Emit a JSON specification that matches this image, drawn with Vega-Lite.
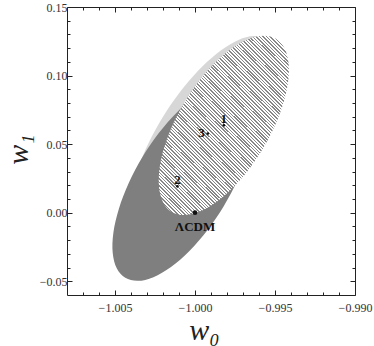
{
"$schema":"https://vega.github.io/schema/vega-lite/v6.json",
"width":288,"height":288,"autosize":"none",
"padding":{"left":67,"top":7,"right":19,"bottom":51},
"config":{"view":{"stroke":"#222","strokeWidth":1},
"axis":{"grid":false,"domain":false,"labelFont":"Liberation Serif","labelFontSize":12,"labelColor":"#333","tickColor":"#222","titleFont":"Liberation Serif","titleFontStyle":"italic","titleFontWeight":"normal","titleFontSize":30,"titleColor":"#222","labelFlush":false,"labelOverlap":false}},
"datasets":{
"ell":[
{"e":"L","i":0,"x":-0.995639,"y":0.12682},{"e":"L","i":1,"x":-0.996355,"y":0.12886},{"e":"L","i":2,"x":-0.997286,"y":0.12601},{"e":"L","i":3,"x":-0.998369,"y":0.11847},{"e":"L","i":4,"x":-0.999531,"y":0.10675},{"e":"L","i":5,"x":-1.000692,"y":0.09163},{"e":"L","i":6,"x":-1.001773,"y":0.07418},{"e":"L","i":7,"x":-1.0027,"y":0.05555},{"e":"L","i":8,"x":-1.003411,"y":0.03703},{"e":"L","i":9,"x":-1.003857,"y":0.01988},{"e":"L","i":10,"x":-1.004006,"y":0.00526},{"e":"L","i":11,"x":-1.00385,"y":-0.00582},{"e":"L","i":12,"x":-1.003399,"y":-0.01262},{"e":"L","i":13,"x":-1.002683,"y":-0.01466},{"e":"L","i":14,"x":-1.001752,"y":-0.01181},{"e":"L","i":15,"x":-1.000669,"y":-0.00427},{"e":"L","i":16,"x":-0.999507,"y":0.00745},{"e":"L","i":17,"x":-0.998346,"y":0.02257},{"e":"L","i":18,"x":-0.997265,"y":0.04002},{"e":"L","i":19,"x":-0.996338,"y":0.05865},{"e":"L","i":20,"x":-0.995627,"y":0.07717},{"e":"L","i":21,"x":-0.995181,"y":0.09432},{"e":"L","i":22,"x":-0.995032,"y":0.10894},{"e":"L","i":23,"x":-0.995188,"y":0.12002},
{"e":"D","i":0,"x":-0.997145,"y":0.09254},{"e":"D","i":1,"x":-0.997927,"y":0.09477},{"e":"D","i":2,"x":-0.998901,"y":0.09208},{"e":"D","i":3,"x":-1.0,"y":0.08465},{"e":"D","i":4,"x":-1.001151,"y":0.07298},{"e":"D","i":5,"x":-1.002275,"y":0.05788},{"e":"D","i":6,"x":-1.003295,"y":0.04038},{"e":"D","i":7,"x":-1.004141,"y":0.02166},{"e":"D","i":8,"x":-1.004756,"y":0.00298},{"e":"D","i":9,"x":-1.005099,"y":-0.01434},{"e":"D","i":10,"x":-1.005144,"y":-0.02917},{"e":"D","i":11,"x":-1.004891,"y":-0.04046},{"e":"D","i":12,"x":-1.004355,"y":-0.04746},{"e":"D","i":13,"x":-1.003573,"y":-0.04969},{"e":"D","i":14,"x":-1.002599,"y":-0.047},{"e":"D","i":15,"x":-1.0015,"y":-0.03957},{"e":"D","i":16,"x":-1.000349,"y":-0.0279},{"e":"D","i":17,"x":-0.999225,"y":-0.0128},{"e":"D","i":18,"x":-0.998205,"y":0.0047},{"e":"D","i":19,"x":-0.997359,"y":0.02342},{"e":"D","i":20,"x":-0.996744,"y":0.0421},{"e":"D","i":21,"x":-0.996401,"y":0.05942},{"e":"D","i":22,"x":-0.996356,"y":0.07425},{"e":"D","i":23,"x":-0.996609,"y":0.08554},
{"e":"H","i":0,"x":-0.994945,"y":0.12683},{"e":"H","i":1,"x":-0.995687,"y":0.1291},{"e":"H","i":2,"x":-0.996601,"y":0.12692},{"e":"H","i":3,"x":-0.997624,"y":0.12042},{"e":"H","i":4,"x":-0.998686,"y":0.11006},{"e":"H","i":5,"x":-0.999715,"y":0.09654},{"e":"H","i":6,"x":-1.00064,"y":0.08078},{"e":"H","i":7,"x":-1.001399,"y":0.06386},{"e":"H","i":8,"x":-1.00194,"y":0.04693},{"e":"H","i":9,"x":-1.002227,"y":0.03114},{"e":"H","i":10,"x":-1.002239,"y":0.01757},{"e":"H","i":11,"x":-1.001975,"y":0.00714},{"e":"H","i":12,"x":-1.001455,"y":0.00057},{"e":"H","i":13,"x":-1.000713,"y":-0.0017},{"e":"H","i":14,"x":-0.999799,"y":0.00048},{"e":"H","i":15,"x":-0.998776,"y":0.00698},{"e":"H","i":16,"x":-0.997714,"y":0.01734},{"e":"H","i":17,"x":-0.996685,"y":0.03086},{"e":"H","i":18,"x":-0.99576,"y":0.04662},{"e":"H","i":19,"x":-0.995001,"y":0.06354},{"e":"H","i":20,"x":-0.99446,"y":0.08047},{"e":"H","i":21,"x":-0.994173,"y":0.09626},{"e":"H","i":22,"x":-0.994161,"y":0.10983},{"e":"H","i":23,"x":-0.994425,"y":0.12026}
],
"pts":[{"label":"1","x":-0.9982,"y":0.0637},{"label":"2","x":-1.0011,"y":0.0193},{"label":"3","x":-0.9992,"y":0.0577},{"label":"ΛCDM","x":-1.0,"y":0.0}]
},
"layer":[
{"data":{"name":"ell"},"transform":[{"filter":"datum.e === 'L'"}],
"mark":{"type":"line","interpolate":"cardinal-closed","fill":"#d7d7d7","strokeOpacity":0},
"encoding":{
"x":{"field":"x","type":"quantitative","scale":{"domain":[-1.008,-0.99],"nice":false,"zero":false},"axis":{"orient":"bottom","values":[-1.005,-1,-0.995,-0.99],"format":".3f","tickSize":-5,"labelPadding":12,"title":"w₀","titleBaseline":"alphabetic","titleY":44,"titleX":137,"titleAlign":"center"}},
"y":{"field":"y","type":"quantitative","scale":{"domain":[-0.06,0.15],"nice":false,"zero":false},"axis":{"orient":"left","values":[-0.05,0,0.05,0.1,0.15],"format":".2f","tickSize":-5,"labelPadding":5,"title":"w₁","titleBaseline":"alphabetic","titleX":-40,"titleY":142,"titleAlign":"center","titleAngle":-90}},
"order":{"field":"i","type":"quantitative"}}},
{"data":{"name":"ell"},"transform":[{"filter":"datum.e === 'D'"}],
"mark":{"type":"line","interpolate":"cardinal-closed","fill":"#7f7f7f","strokeOpacity":0},
"encoding":{
"x":{"field":"x","type":"quantitative","scale":{"domain":[-1.008,-0.99],"nice":false,"zero":false},"axis":{"orient":"bottom","values":[-1.007,-1.006,-1.004,-1.003,-1.002,-1.001,-0.999,-0.998,-0.997,-0.996,-0.994,-0.993,-0.992,-0.991],"tickSize":-3,"labels":false,"title":null}},
"y":{"field":"y","type":"quantitative","scale":{"domain":[-0.06,0.15],"nice":false,"zero":false},"axis":{"orient":"left","values":[-0.04,-0.03,-0.02,-0.01,0.01,0.02,0.03,0.04,0.06,0.07,0.08,0.09,0.11,0.12,0.13,0.14],"tickSize":-3,"labels":false,"title":null}},
"order":{"field":"i","type":"quantitative"}}},
{"data":{"name":"ell"},"transform":[{"filter":"datum.e === 'H'"}],
"mark":{"type":"line","interpolate":"cardinal-closed","strokeOpacity":0,
"fill":{"gradient":"linear","x1":0,"y1":1,"x2":1,"y2":-0.39,"stops":[
{"offset":0,"color":"#fff"},{"offset":0.005,"color":"#fff"},{"offset":0.005,"color":"#888"},{"offset":0.009,"color":"#888"},
{"offset":0.009,"color":"#fff"},{"offset":0.014,"color":"#fff"},{"offset":0.014,"color":"#888"},{"offset":0.018,"color":"#888"},
{"offset":0.018,"color":"#fff"},{"offset":0.023,"color":"#fff"},{"offset":0.023,"color":"#888"},{"offset":0.027,"color":"#888"},
{"offset":0.027,"color":"#fff"},{"offset":0.032,"color":"#fff"},{"offset":0.032,"color":"#888"},{"offset":0.036,"color":"#888"},
{"offset":0.036,"color":"#fff"},{"offset":0.041,"color":"#fff"},{"offset":0.041,"color":"#888"},{"offset":0.045,"color":"#888"},
{"offset":0.045,"color":"#fff"},{"offset":0.05,"color":"#fff"},{"offset":0.05,"color":"#888"},{"offset":0.054,"color":"#888"},
{"offset":0.054,"color":"#fff"},{"offset":0.059,"color":"#fff"},{"offset":0.059,"color":"#888"},{"offset":0.063,"color":"#888"},
{"offset":0.063,"color":"#fff"},{"offset":0.068,"color":"#fff"},{"offset":0.068,"color":"#888"},{"offset":0.072,"color":"#888"},
{"offset":0.072,"color":"#fff"},{"offset":0.077,"color":"#fff"},{"offset":0.077,"color":"#888"},{"offset":0.081,"color":"#888"},
{"offset":0.081,"color":"#fff"},{"offset":0.086,"color":"#fff"},{"offset":0.086,"color":"#888"},{"offset":0.09,"color":"#888"},
{"offset":0.09,"color":"#fff"},{"offset":0.095,"color":"#fff"},{"offset":0.095,"color":"#888"},{"offset":0.099,"color":"#888"},
{"offset":0.099,"color":"#fff"},{"offset":0.104,"color":"#fff"},{"offset":0.104,"color":"#888"},{"offset":0.108,"color":"#888"},
{"offset":0.108,"color":"#fff"},{"offset":0.113,"color":"#fff"},{"offset":0.113,"color":"#888"},{"offset":0.117,"color":"#888"},
{"offset":0.117,"color":"#fff"},{"offset":0.122,"color":"#fff"},{"offset":0.122,"color":"#888"},{"offset":0.126,"color":"#888"},
{"offset":0.126,"color":"#fff"},{"offset":0.131,"color":"#fff"},{"offset":0.131,"color":"#888"},{"offset":0.135,"color":"#888"},
{"offset":0.135,"color":"#fff"},{"offset":0.14,"color":"#fff"},{"offset":0.14,"color":"#888"},{"offset":0.144,"color":"#888"},
{"offset":0.144,"color":"#fff"},{"offset":0.149,"color":"#fff"},{"offset":0.149,"color":"#888"},{"offset":0.153,"color":"#888"},
{"offset":0.153,"color":"#fff"},{"offset":0.158,"color":"#fff"},{"offset":0.158,"color":"#888"},{"offset":0.162,"color":"#888"},
{"offset":0.162,"color":"#fff"},{"offset":0.167,"color":"#fff"},{"offset":0.167,"color":"#888"},{"offset":0.171,"color":"#888"},
{"offset":0.171,"color":"#fff"},{"offset":0.176,"color":"#fff"},{"offset":0.176,"color":"#888"},{"offset":0.18,"color":"#888"},
{"offset":0.18,"color":"#fff"},{"offset":0.185,"color":"#fff"},{"offset":0.185,"color":"#888"},{"offset":0.189,"color":"#888"},
{"offset":0.189,"color":"#fff"},{"offset":0.194,"color":"#fff"},{"offset":0.194,"color":"#888"},{"offset":0.198,"color":"#888"},
{"offset":0.198,"color":"#fff"},{"offset":0.203,"color":"#fff"},{"offset":0.203,"color":"#888"},{"offset":0.207,"color":"#888"},
{"offset":0.207,"color":"#fff"},{"offset":0.212,"color":"#fff"},{"offset":0.212,"color":"#888"},{"offset":0.216,"color":"#888"},
{"offset":0.216,"color":"#fff"},{"offset":0.221,"color":"#fff"},{"offset":0.221,"color":"#888"},{"offset":0.225,"color":"#888"},
{"offset":0.225,"color":"#fff"},{"offset":0.23,"color":"#fff"},{"offset":0.23,"color":"#888"},{"offset":0.234,"color":"#888"},
{"offset":0.234,"color":"#fff"},{"offset":0.239,"color":"#fff"},{"offset":0.239,"color":"#888"},{"offset":0.243,"color":"#888"},
{"offset":0.243,"color":"#fff"},{"offset":0.248,"color":"#fff"},{"offset":0.248,"color":"#888"},{"offset":0.252,"color":"#888"},
{"offset":0.252,"color":"#fff"},{"offset":0.257,"color":"#fff"},{"offset":0.257,"color":"#888"},{"offset":0.261,"color":"#888"},
{"offset":0.261,"color":"#fff"},{"offset":0.266,"color":"#fff"},{"offset":0.266,"color":"#888"},{"offset":0.27,"color":"#888"},
{"offset":0.27,"color":"#fff"},{"offset":0.275,"color":"#fff"},{"offset":0.275,"color":"#888"},{"offset":0.279,"color":"#888"},
{"offset":0.279,"color":"#fff"},{"offset":0.284,"color":"#fff"},{"offset":0.284,"color":"#888"},{"offset":0.288,"color":"#888"},
{"offset":0.288,"color":"#fff"},{"offset":0.293,"color":"#fff"},{"offset":0.293,"color":"#888"},{"offset":0.297,"color":"#888"},
{"offset":0.297,"color":"#fff"},{"offset":0.302,"color":"#fff"},{"offset":0.302,"color":"#888"},{"offset":0.306,"color":"#888"},
{"offset":0.306,"color":"#fff"},{"offset":0.311,"color":"#fff"},{"offset":0.311,"color":"#888"},{"offset":0.315,"color":"#888"},
{"offset":0.315,"color":"#fff"},{"offset":0.32,"color":"#fff"},{"offset":0.32,"color":"#888"},{"offset":0.324,"color":"#888"},
{"offset":0.324,"color":"#fff"},{"offset":0.329,"color":"#fff"},{"offset":0.329,"color":"#888"},{"offset":0.333,"color":"#888"},
{"offset":0.333,"color":"#fff"},{"offset":0.338,"color":"#fff"},{"offset":0.338,"color":"#888"},{"offset":0.342,"color":"#888"},
{"offset":0.342,"color":"#fff"},{"offset":0.347,"color":"#fff"},{"offset":0.347,"color":"#888"},{"offset":0.351,"color":"#888"},
{"offset":0.351,"color":"#fff"},{"offset":0.356,"color":"#fff"},{"offset":0.356,"color":"#888"},{"offset":0.36,"color":"#888"},
{"offset":0.36,"color":"#fff"},{"offset":0.365,"color":"#fff"},{"offset":0.365,"color":"#888"},{"offset":0.369,"color":"#888"},
{"offset":0.369,"color":"#fff"},{"offset":0.374,"color":"#fff"},{"offset":0.374,"color":"#888"},{"offset":0.378,"color":"#888"},
{"offset":0.378,"color":"#fff"},{"offset":0.383,"color":"#fff"},{"offset":0.383,"color":"#888"},{"offset":0.387,"color":"#888"},
{"offset":0.387,"color":"#fff"},{"offset":0.392,"color":"#fff"},{"offset":0.392,"color":"#888"},{"offset":0.396,"color":"#888"},
{"offset":0.396,"color":"#fff"},{"offset":0.401,"color":"#fff"},{"offset":0.401,"color":"#888"},{"offset":0.405,"color":"#888"},
{"offset":0.405,"color":"#fff"},{"offset":0.41,"color":"#fff"},{"offset":0.41,"color":"#888"},{"offset":0.414,"color":"#888"},
{"offset":0.414,"color":"#fff"},{"offset":0.419,"color":"#fff"},{"offset":0.419,"color":"#888"},{"offset":0.423,"color":"#888"},
{"offset":0.423,"color":"#fff"},{"offset":0.428,"color":"#fff"},{"offset":0.428,"color":"#888"},{"offset":0.432,"color":"#888"},
{"offset":0.432,"color":"#fff"},{"offset":0.437,"color":"#fff"},{"offset":0.437,"color":"#888"},{"offset":0.441,"color":"#888"},
{"offset":0.441,"color":"#fff"},{"offset":0.446,"color":"#fff"},{"offset":0.446,"color":"#888"},{"offset":0.45,"color":"#888"},
{"offset":0.45,"color":"#fff"},{"offset":0.455,"color":"#fff"},{"offset":0.455,"color":"#888"},{"offset":0.459,"color":"#888"},
{"offset":0.459,"color":"#fff"},{"offset":0.464,"color":"#fff"},{"offset":0.464,"color":"#888"},{"offset":0.468,"color":"#888"},
{"offset":0.468,"color":"#fff"},{"offset":0.473,"color":"#fff"},{"offset":0.473,"color":"#888"},{"offset":0.477,"color":"#888"},
{"offset":0.477,"color":"#fff"},{"offset":0.482,"color":"#fff"},{"offset":0.482,"color":"#888"},{"offset":0.486,"color":"#888"},
{"offset":0.486,"color":"#fff"},{"offset":0.491,"color":"#fff"},{"offset":0.491,"color":"#888"},{"offset":0.495,"color":"#888"},
{"offset":0.495,"color":"#fff"},{"offset":0.5,"color":"#fff"},{"offset":0.5,"color":"#888"},{"offset":0.504,"color":"#888"},
{"offset":0.504,"color":"#fff"},{"offset":0.509,"color":"#fff"},{"offset":0.509,"color":"#888"},{"offset":0.513,"color":"#888"},
{"offset":0.513,"color":"#fff"},{"offset":0.518,"color":"#fff"},{"offset":0.518,"color":"#888"},{"offset":0.522,"color":"#888"},
{"offset":0.522,"color":"#fff"},{"offset":0.527,"color":"#fff"},{"offset":0.527,"color":"#888"},{"offset":0.531,"color":"#888"},
{"offset":0.531,"color":"#fff"},{"offset":0.536,"color":"#fff"},{"offset":0.536,"color":"#888"},{"offset":0.54,"color":"#888"},
{"offset":0.54,"color":"#fff"},{"offset":0.545,"color":"#fff"},{"offset":0.545,"color":"#888"},{"offset":0.549,"color":"#888"},
{"offset":0.549,"color":"#fff"},{"offset":0.554,"color":"#fff"},{"offset":0.554,"color":"#888"},{"offset":0.558,"color":"#888"},
{"offset":0.558,"color":"#fff"},{"offset":0.563,"color":"#fff"},{"offset":0.563,"color":"#888"},{"offset":0.567,"color":"#888"},
{"offset":0.567,"color":"#fff"},{"offset":0.572,"color":"#fff"},{"offset":0.572,"color":"#888"},{"offset":0.576,"color":"#888"},
{"offset":0.576,"color":"#fff"},{"offset":0.581,"color":"#fff"},{"offset":0.581,"color":"#888"},{"offset":0.585,"color":"#888"},
{"offset":0.585,"color":"#fff"},{"offset":0.59,"color":"#fff"},{"offset":0.59,"color":"#888"},{"offset":0.594,"color":"#888"},
{"offset":0.594,"color":"#fff"},{"offset":0.599,"color":"#fff"},{"offset":0.599,"color":"#888"},{"offset":0.603,"color":"#888"},
{"offset":0.603,"color":"#fff"},{"offset":0.608,"color":"#fff"},{"offset":0.608,"color":"#888"},{"offset":0.612,"color":"#888"},
{"offset":0.612,"color":"#fff"},{"offset":0.617,"color":"#fff"},{"offset":0.617,"color":"#888"},{"offset":0.621,"color":"#888"},
{"offset":0.621,"color":"#fff"},{"offset":0.626,"color":"#fff"},{"offset":0.626,"color":"#888"},{"offset":0.63,"color":"#888"},
{"offset":0.63,"color":"#fff"},{"offset":0.635,"color":"#fff"},{"offset":0.635,"color":"#888"},{"offset":0.639,"color":"#888"},
{"offset":0.639,"color":"#fff"},{"offset":0.644,"color":"#fff"},{"offset":0.644,"color":"#888"},{"offset":0.648,"color":"#888"},
{"offset":0.648,"color":"#fff"},{"offset":0.653,"color":"#fff"},{"offset":0.653,"color":"#888"},{"offset":0.657,"color":"#888"},
{"offset":0.657,"color":"#fff"},{"offset":0.662,"color":"#fff"},{"offset":0.662,"color":"#888"},{"offset":0.666,"color":"#888"},
{"offset":0.666,"color":"#fff"},{"offset":0.671,"color":"#fff"},{"offset":0.671,"color":"#888"},{"offset":0.675,"color":"#888"},
{"offset":0.675,"color":"#fff"},{"offset":0.68,"color":"#fff"},{"offset":0.68,"color":"#888"},{"offset":0.684,"color":"#888"},
{"offset":0.684,"color":"#fff"},{"offset":0.689,"color":"#fff"},{"offset":0.689,"color":"#888"},{"offset":0.693,"color":"#888"},
{"offset":0.693,"color":"#fff"},{"offset":0.698,"color":"#fff"},{"offset":0.698,"color":"#888"},{"offset":0.702,"color":"#888"},
{"offset":0.702,"color":"#fff"},{"offset":0.707,"color":"#fff"},{"offset":0.707,"color":"#888"},{"offset":0.711,"color":"#888"},
{"offset":0.711,"color":"#fff"},{"offset":0.716,"color":"#fff"},{"offset":0.716,"color":"#888"},{"offset":0.72,"color":"#888"},
{"offset":0.72,"color":"#fff"},{"offset":0.725,"color":"#fff"},{"offset":0.725,"color":"#888"},{"offset":0.729,"color":"#888"},
{"offset":0.729,"color":"#fff"},{"offset":0.734,"color":"#fff"},{"offset":0.734,"color":"#888"},{"offset":0.738,"color":"#888"},
{"offset":0.738,"color":"#fff"},{"offset":0.743,"color":"#fff"},{"offset":0.743,"color":"#888"},{"offset":0.747,"color":"#888"},
{"offset":0.747,"color":"#fff"},{"offset":0.752,"color":"#fff"},{"offset":0.752,"color":"#888"},{"offset":0.756,"color":"#888"},
{"offset":0.756,"color":"#fff"},{"offset":0.761,"color":"#fff"},{"offset":0.761,"color":"#888"},{"offset":0.765,"color":"#888"},
{"offset":0.765,"color":"#fff"},{"offset":0.77,"color":"#fff"},{"offset":0.77,"color":"#888"},{"offset":0.774,"color":"#888"},
{"offset":0.774,"color":"#fff"},{"offset":0.779,"color":"#fff"},{"offset":0.779,"color":"#888"},{"offset":0.783,"color":"#888"},
{"offset":0.783,"color":"#fff"},{"offset":0.788,"color":"#fff"},{"offset":0.788,"color":"#888"},{"offset":0.792,"color":"#888"},
{"offset":0.792,"color":"#fff"},{"offset":0.797,"color":"#fff"},{"offset":0.797,"color":"#888"},{"offset":0.801,"color":"#888"},
{"offset":0.801,"color":"#fff"},{"offset":0.806,"color":"#fff"},{"offset":0.806,"color":"#888"},{"offset":0.81,"color":"#888"},
{"offset":0.81,"color":"#fff"},{"offset":0.815,"color":"#fff"},{"offset":0.815,"color":"#888"},{"offset":0.819,"color":"#888"},
{"offset":0.819,"color":"#fff"},{"offset":0.824,"color":"#fff"},{"offset":0.824,"color":"#888"},{"offset":0.828,"color":"#888"},
{"offset":0.828,"color":"#fff"},{"offset":0.833,"color":"#fff"},{"offset":0.833,"color":"#888"},{"offset":0.837,"color":"#888"},
{"offset":0.837,"color":"#fff"},{"offset":0.842,"color":"#fff"},{"offset":0.842,"color":"#888"},{"offset":0.846,"color":"#888"},
{"offset":0.846,"color":"#fff"},{"offset":0.851,"color":"#fff"},{"offset":0.851,"color":"#888"},{"offset":0.855,"color":"#888"},
{"offset":0.855,"color":"#fff"},{"offset":0.86,"color":"#fff"},{"offset":0.86,"color":"#888"},{"offset":0.864,"color":"#888"},
{"offset":0.864,"color":"#fff"},{"offset":0.869,"color":"#fff"},{"offset":0.869,"color":"#888"},{"offset":0.873,"color":"#888"},
{"offset":0.873,"color":"#fff"},{"offset":0.878,"color":"#fff"},{"offset":0.878,"color":"#888"},{"offset":0.882,"color":"#888"},
{"offset":0.882,"color":"#fff"},{"offset":0.887,"color":"#fff"},{"offset":0.887,"color":"#888"},{"offset":0.891,"color":"#888"},
{"offset":0.891,"color":"#fff"},{"offset":0.896,"color":"#fff"},{"offset":0.896,"color":"#888"},{"offset":0.9,"color":"#888"},
{"offset":0.9,"color":"#fff"},{"offset":0.905,"color":"#fff"},{"offset":0.905,"color":"#888"},{"offset":0.909,"color":"#888"},
{"offset":0.909,"color":"#fff"},{"offset":0.914,"color":"#fff"},{"offset":0.914,"color":"#888"},{"offset":0.918,"color":"#888"},
{"offset":0.918,"color":"#fff"},{"offset":0.923,"color":"#fff"},{"offset":0.923,"color":"#888"},{"offset":0.927,"color":"#888"},
{"offset":0.927,"color":"#fff"},{"offset":0.932,"color":"#fff"},{"offset":0.932,"color":"#888"},{"offset":0.936,"color":"#888"},
{"offset":0.936,"color":"#fff"},{"offset":0.941,"color":"#fff"},{"offset":0.941,"color":"#888"},{"offset":0.945,"color":"#888"},
{"offset":0.945,"color":"#fff"},{"offset":0.95,"color":"#fff"},{"offset":0.95,"color":"#888"},{"offset":0.954,"color":"#888"},
{"offset":0.954,"color":"#fff"},{"offset":0.959,"color":"#fff"},{"offset":0.959,"color":"#888"},{"offset":0.963,"color":"#888"},
{"offset":0.963,"color":"#fff"},{"offset":0.968,"color":"#fff"},{"offset":0.968,"color":"#888"},{"offset":0.972,"color":"#888"},
{"offset":0.972,"color":"#fff"},{"offset":0.977,"color":"#fff"},{"offset":0.977,"color":"#888"},{"offset":0.981,"color":"#888"},
{"offset":0.981,"color":"#fff"},{"offset":0.986,"color":"#fff"},{"offset":0.986,"color":"#888"},{"offset":0.99,"color":"#888"},
{"offset":0.99,"color":"#fff"},{"offset":0.995,"color":"#fff"},{"offset":0.995,"color":"#888"},{"offset":0.999,"color":"#888"},
{"offset":0.999,"color":"#fff"},{"offset":1,"color":"#fff"}
]}},
"encoding":{
"x":{"field":"x","type":"quantitative","scale":{"domain":[-1.008,-0.99],"nice":false,"zero":false},"axis":{"orient":"top","values":[-1.005,-1,-0.995,-0.99],"tickSize":-5,"labels":false,"title":null}},
"y":{"field":"y","type":"quantitative","scale":{"domain":[-0.06,0.15],"nice":false,"zero":false},"axis":{"orient":"right","values":[-0.05,0,0.05,0.1,0.15],"tickSize":-5,"labels":false,"title":null}},
"order":{"field":"i","type":"quantitative"}}},
{"data":{"name":"pts"},"transform":[{"filter":"datum.label !== 'ΛCDM'"}],
"mark":{"type":"circle","size":7,"color":"#111","opacity":1},
"encoding":{
"x":{"field":"x","type":"quantitative","scale":{"domain":[-1.008,-0.99],"nice":false,"zero":false},"axis":{"orient":"top","values":[-1.007,-1.006,-1.004,-1.003,-1.002,-1.001,-0.999,-0.998,-0.997,-0.996,-0.994,-0.993,-0.992,-0.991],"tickSize":-3,"labels":false,"title":null}},
"y":{"field":"y","type":"quantitative","scale":{"domain":[-0.06,0.15],"nice":false,"zero":false},"axis":{"orient":"right","values":[-0.04,-0.03,-0.02,-0.01,0.01,0.02,0.03,0.04,0.06,0.07,0.08,0.09,0.11,0.12,0.13,0.14],"tickSize":-3,"labels":false,"title":null}}}},
{"data":{"name":"pts"},"transform":[{"filter":"datum.label === 'ΛCDM'"}],
"mark":{"type":"circle","size":22,"color":"#111","opacity":1},
"encoding":{
"x":{"field":"x","type":"quantitative","scale":{"domain":[-1.008,-0.99],"nice":false,"zero":false},"axis":null},
"y":{"field":"y","type":"quantitative","scale":{"domain":[-0.06,0.15],"nice":false,"zero":false},"axis":null}}},
{"data":{"name":"pts"},"transform":[{"filter":"datum.label === '1' || datum.label === '2'"}],
"mark":{"type":"text","font":"Liberation Serif","fontWeight":"bold","fontSize":13,"color":"#111","align":"center","baseline":"alphabetic","dy":-2},
"encoding":{
"x":{"field":"x","type":"quantitative","scale":{"domain":[-1.008,-0.99],"nice":false,"zero":false},"axis":null},
"y":{"field":"y","type":"quantitative","scale":{"domain":[-0.06,0.15],"nice":false,"zero":false},"axis":null},
"text":{"field":"label"}}},
{"data":{"name":"pts"},"transform":[{"filter":"datum.label === '3'"}],
"mark":{"type":"text","font":"Liberation Serif","fontWeight":"bold","fontSize":13,"color":"#111","align":"right","baseline":"alphabetic","dx":-3,"dy":3},
"encoding":{
"x":{"field":"x","type":"quantitative","scale":{"domain":[-1.008,-0.99],"nice":false,"zero":false},"axis":null},
"y":{"field":"y","type":"quantitative","scale":{"domain":[-0.06,0.15],"nice":false,"zero":false},"axis":null},
"text":{"field":"label"}}},
{"data":{"name":"pts"},"transform":[{"filter":"datum.label === 'ΛCDM'"}],
"mark":{"type":"text","font":"Liberation Serif","fontWeight":"bold","fontSize":13,"color":"#111","align":"center","baseline":"alphabetic","dy":18},
"encoding":{
"x":{"field":"x","type":"quantitative","scale":{"domain":[-1.008,-0.99],"nice":false,"zero":false},"axis":null},
"y":{"field":"y","type":"quantitative","scale":{"domain":[-0.06,0.15],"nice":false,"zero":false},"axis":null},
"text":{"field":"label"}}}
],
"resolve":{"axis":{"x":"independent","y":"independent"}}
}
